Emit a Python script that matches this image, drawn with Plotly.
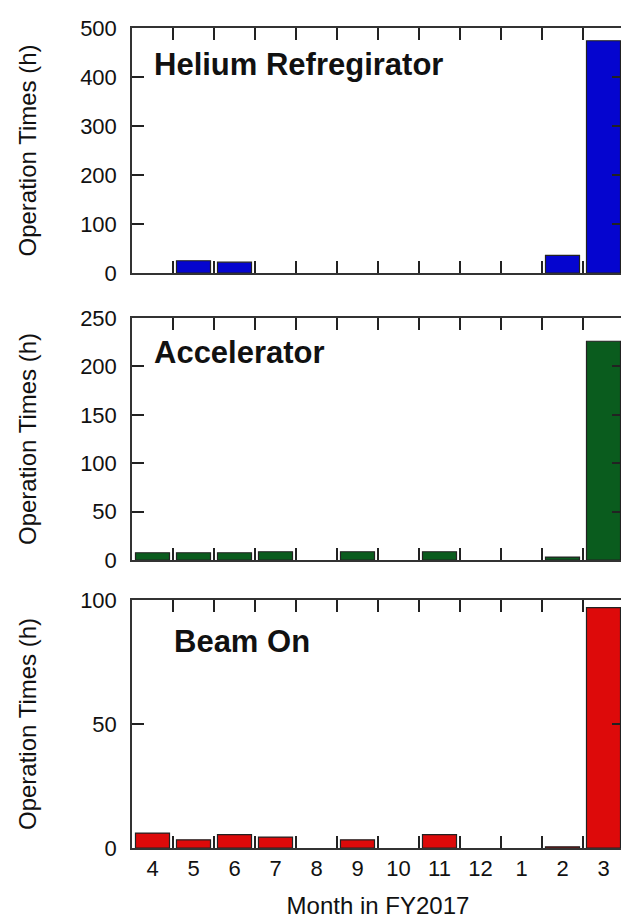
import plotly.graph_objects as go
from plotly.subplots import make_subplots

months = ["4", "5", "6", "7", "8", "9", "10", "11", "12", "1", "2", "3"]
helium = [0, 25, 22, 0, 0, 0, 0, 0, 0, 0, 36, 474]
accelerator = [7.5, 7.5, 7.5, 8.5, 0, 8.5, 0, 8.5, 0, 0, 3, 226]
beam_on = [6.0, 3.3, 5.4, 4.4, 0, 3.3, 0, 5.4, 0, 0, 0.5, 96.9]

panel_titles = ["Helium Refregirator", "Accelerator", "Beam On"]
y_ranges = [[0, 500], [0, 250], [0, 100]]
y_dticks = [100, 50, 50]
colors = ["#0505CF", "#0A5C1E", "#DD0A0A"]
series = [helium, accelerator, beam_on]

fig = make_subplots(rows=3, cols=1, shared_xaxes=False, vertical_spacing=0.05)

# the page body has an 8px default margin: lay out in reference pixels minus 8
OFF = 8
W, H = 629 - OFF, 921 - OFF
PLOT_L, PLOT_R = 132, 624
PLOT_T, PLOT_B = 28, 848
L = PLOT_L - OFF
R = W - (PLOT_R - OFF)
T = PLOT_T - OFF
B = H - (PLOT_B - OFF)
PW = W - L - R
ph = H - T - B
panels_px = [(28, 273), (318, 560), (600, 848)]
domains = [[(PLOT_B - b) / ph, (PLOT_B - t) / ph] for t, b in panels_px]
domains[0][1] = 1.0
domains[2][0] = 0.0
title_px = [(152, 64), (152, 352), (172, 641)]

font_main = "Liberation Sans, Arial, sans-serif"
axis_dark = "#222222"

for i in range(3):
    fig.add_trace(
        go.Bar(
            x=months,
            y=[v if v > 0 else None for v in series[i]],
            marker=dict(color=colors[i], line=dict(color="#222222", width=1.2)),
            showlegend=False,
        ),
        row=i + 1,
        col=1,
    )
    xa = "xaxis" if i == 0 else f"xaxis{i+1}"
    ya = "yaxis" if i == 0 else f"yaxis{i+1}"
    fig.layout[xa].update(
        type="category",
        categoryorder="array",
        categoryarray=months,
        range=[-0.5, 11.5],
        tickson="boundaries",
        ticks="inside",
        ticklen=12,
        tickwidth=2,
        tickcolor=axis_dark,
        showline=True,
        linecolor="#333333",
        linewidth=1.5,
        mirror="allticks",
        showgrid=False,
        automargin=False,
        showticklabels=(i == 2),
        tickfont=dict(family=font_main, size=22, color="#111111"),
    )
    fig.layout[ya].update(
        domain=domains[i],
        range=y_ranges[i],
        dtick=y_dticks[i],
        ticks="inside",
        ticklen=12,
        tickwidth=2,
        tickcolor=axis_dark,
        showline=True,
        linecolor="#333333",
        linewidth=1.5,
        mirror="allticks",
        showgrid=False,
        zeroline=False,
        automargin=False,
        tickfont=dict(family=font_main, size=22, color="#111111"),
        ticklabelstandoff=9,
    )
    tx, ty = title_px[i]
    fig.add_annotation(
        text="<b>" + panel_titles[i] + "</b>",
        xref="paper", yref="paper",
        x=(tx - PLOT_L) / PW,
        y=(PLOT_B - ty) / ph,
        xanchor="left", yanchor="middle",
        showarrow=False,
        font=dict(family=font_main, size=31, color="#111111"),
    )
    cy = (panels_px[i][0] + panels_px[i][1]) / 2
    fig.add_annotation(
        text="Operation Times (h)",
        xref="paper", yref="paper",
        x=(27 - PLOT_L) / PW,
        y=(PLOT_B - cy) / ph,
        xanchor="center", yanchor="middle",
        textangle=-90,
        showarrow=False,
        font=dict(family=font_main, size=24, color="#111111"),
    )

fig.layout.xaxis3.title = dict(
    text="Month in FY2017",
    font=dict(family=font_main, size=24, color="#111111"),
    standoff=17,
)

fig.update_layout(
    width=W,
    height=H,
    margin=dict(l=L, r=R, t=T, b=B),
    plot_bgcolor="white",
    paper_bgcolor="white",
    bargap=0.17,
)

fig.write_html("out.html")
